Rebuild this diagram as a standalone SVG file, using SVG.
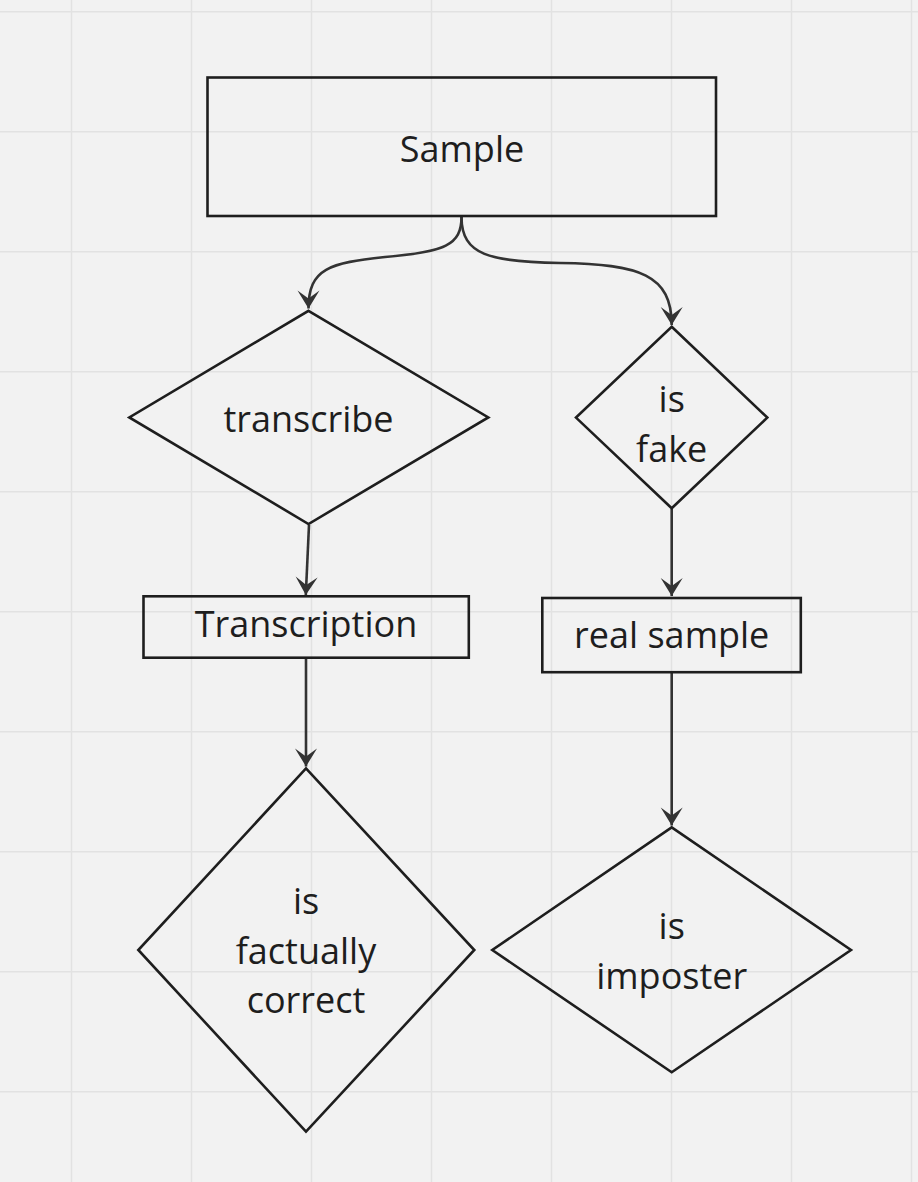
<svg xmlns="http://www.w3.org/2000/svg" width="918" height="1182" viewBox="0 0 918 1182">
<style>
.grid line{stroke:#e2e2e2;stroke-width:1.5}
.node{fill:none;stroke:#1e1e1e;stroke-width:2.6}
.lbl{font-family:"Open Sans","Noto Sans",sans-serif;font-size:36px;fill:#1e1e1e;text-anchor:middle}
.conn path{fill:none;stroke:#333333;stroke-width:2.6}
</style>
<defs>
<marker id="arr" viewBox="-20 -12 22 24" markerWidth="22" markerHeight="24" refX="0" refY="0" markerUnits="userSpaceOnUse" orient="auto">
<path d="M0,0 L-18,-11 L-10,0 L-18,11 Z" fill="#333333"/>
</marker>
</defs>
<rect width="918" height="1182" fill="#f2f2f2"/>
<g class="grid">
<line x1="71.5" y1="0" x2="71.5" y2="1182"/>
<line x1="191.5" y1="0" x2="191.5" y2="1182"/>
<line x1="311.5" y1="0" x2="311.5" y2="1182"/>
<line x1="431.5" y1="0" x2="431.5" y2="1182"/>
<line x1="551.5" y1="0" x2="551.5" y2="1182"/>
<line x1="671.5" y1="0" x2="671.5" y2="1182"/>
<line x1="791.5" y1="0" x2="791.5" y2="1182"/>
<line x1="911.5" y1="0" x2="911.5" y2="1182"/>
<line x1="0" y1="11.7" x2="918" y2="11.7"/>
<line x1="0" y1="131.7" x2="918" y2="131.7"/>
<line x1="0" y1="251.7" x2="918" y2="251.7"/>
<line x1="0" y1="371.7" x2="918" y2="371.7"/>
<line x1="0" y1="491.7" x2="918" y2="491.7"/>
<line x1="0" y1="611.7" x2="918" y2="611.7"/>
<line x1="0" y1="731.7" x2="918" y2="731.7"/>
<line x1="0" y1="851.7" x2="918" y2="851.7"/>
<line x1="0" y1="971.7" x2="918" y2="971.7"/>
<line x1="0" y1="1091.7" x2="918" y2="1091.7"/>
</g>
<g class="conn">
<path d="M461.5,217 C461.5,245 445,252 385,257 C330,263 308.5,268 308.5,308.5" marker-end="url(#arr)"/>
<path d="M461.5,217 C461.5,255 490,262 560,263 C640,264 671.7,275 671.7,325" marker-end="url(#arr)"/>
<path d="M309,525 L305.8,595" marker-end="url(#arr)"/>
<path d="M306,658 L306,766.5" marker-end="url(#arr)"/>
<path d="M671.7,509 L671.7,596" marker-end="url(#arr)"/>
<path d="M671.7,672.5 L671.7,825.5" marker-end="url(#arr)"/>
</g>
<g id="sample">
<rect class="node" x="207.5" y="77.5" width="508.5" height="138.5"/>
<text class="lbl" x="462" y="161.7">Sample</text>
</g>
<g id="transcribe">
<polygon class="node" points="308.5,310.8 488.3,417.4 308.5,524 129.3,417.4"/>
<text class="lbl" x="308.5" y="431.7">transcribe</text>
</g>
<g id="isfake">
<polygon class="node" points="671.7,326.8 767.3,417.6 671.7,508.3 576,417.6"/>
<text class="lbl" x="671.7" y="411.7">is</text>
<text class="lbl" x="671.7" y="461.7">fake</text>
</g>
<g id="transcription">
<rect class="node" x="143.5" y="596.3" width="325.3" height="61.4"/>
<text class="lbl" x="306" y="636.7">Transcription</text>
</g>
<g id="realsample">
<rect class="node" x="542.3" y="598" width="258.5" height="74.2"/>
<text class="lbl" x="671.7" y="648.3">real sample</text>
</g>
<g id="factual">
<polygon class="node" points="306,768.4 474.3,950 306,1131.7 138.3,950"/>
<text class="lbl" x="306" y="914">is</text>
<text class="lbl" x="306" y="964">factually</text>
<text class="lbl" x="306" y="1013.3">correct</text>
</g>
<g id="imposter">
<polygon class="node" points="671.7,827.4 851,950 671.7,1072.3 492.3,950"/>
<text class="lbl" x="671.7" y="939.3">is</text>
<text class="lbl" x="671.7" y="989">imposter</text>
</g>
</svg>
